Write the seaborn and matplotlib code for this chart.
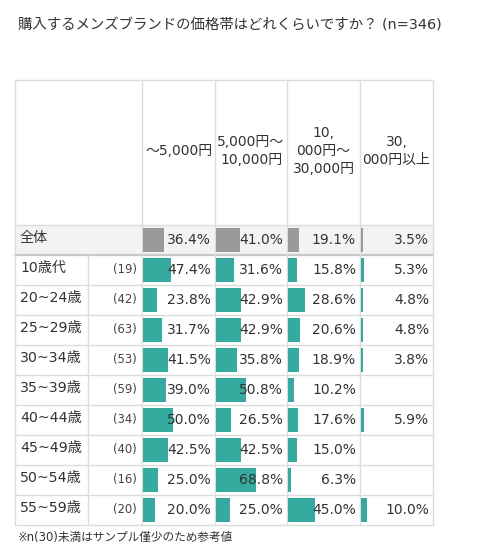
import numpy as np
import pandas as pd
import matplotlib
matplotlib.use("Agg")
import matplotlib.pyplot as plt
import matplotlib.transforms as mtransforms
import seaborn as sns

sns.set_theme(style="white")
plt.rcParams['font.family'] = ['DejaVu Sans', 'Noto Sans CJK JP']

# ---------------- data ----------------
title = "購入するメンズブランドの価格帯はどれくらいですか？ (n=346)"
footnote = "※n(30)未満はサンプル僅少のため参考値"
rows = ['全体', '10歳代', '20~24歳', '25~29歳', '30~34歳', '35~39歳',
        '40~44歳', '45~49歳', '50~54歳', '55~59歳']
n_counts = [None, 19, 42, 63, 53, 59, 34, 40, 16, 20]
columns = ['～5,000円', '5,000円～\n10,000円', '10,\n000円～\n30,000円', '30,\n000円以上']
col1 = [36.4, 47.4, 23.8, 31.7, 41.5, 39.0, 50.0, 42.5, 25.0, 20.0]
col2 = [41.0, 31.6, 42.9, 42.9, 35.8, 50.8, 26.5, 42.5, 68.8, 25.0]
col3 = [19.1, 15.8, 28.6, 20.6, 18.9, 10.2, 17.6, 15.0, 6.3, 45.0]
col4 = [3.5, 5.3, 4.8, 4.8, 3.8, np.nan, 5.9, np.nan, np.nan, 10.0]
values = [col1, col2, col3, col4]

# ---------------- style / layout (pixels) ----------------
W, H = 480, 559
GRAY_BAR = '#9a9a9a'
TEAL = '#35ab9f'
TOTAL_BG = '#f3f3f3'
LINE = '#dcdcdc'
TXT = '#333333'

tbl_left, tbl_right = 15, 433
label_split = 88
col_lefts = [142, 215, 287, 360]
col_rights = [215, 287, 360, 433]
head_top, head_bot = 80, 225
row_h = 30
body_bot = head_bot + row_h * len(rows)

fig = plt.figure(figsize=(W / 100, H / 100), dpi=100)
fig.patch.set_facecolor('white')

# background/layout axes in pixel units
bg = fig.add_axes([0, 0, 1, 1])
bg.set_xlim(0, W)
bg.set_ylim(H, 0)
bg.axis('off')

# total row shading
bg.axhspan(head_bot, head_bot + row_h, xmin=tbl_left / W, xmax=tbl_right / W,
           color=TOTAL_BG, zorder=0, lw=0)

# horizontal grid lines
for k in range(len(rows) + 1):
    y = head_bot + row_h * k
    lw, c = (1.6, '#c8c8c8') if k == 1 else (1.0, LINE)
    bg.plot([tbl_left, tbl_right], [y, y], color=c, lw=lw, zorder=1)
bg.plot([tbl_left, tbl_right], [head_top, head_top], color=LINE, lw=1.0, zorder=1)
# vertical grid lines
for x in [tbl_left] + col_rights:
    bg.plot([x, x], [head_top, body_bot], color=LINE, lw=1.0, zorder=1)
bg.plot([col_lefts[0], col_lefts[0]], [head_top, body_bot], color=LINE, lw=1.0, zorder=1)
bg.plot([label_split, label_split], [head_bot + row_h, body_bot], color=LINE, lw=1.0, zorder=1)

# title & footnote
bg.text(18, 25, title, fontsize=10.4, color=TXT, ha='left', va='center')
bg.text(18, 537, footnote, fontsize=8.4, color=TXT, ha='left', va='center')

# header labels
for i, lab in enumerate(columns):
    cx = (col_lefts[i] + col_rights[i]) / 2
    bg.text(cx, 151, lab, fontsize=10, color=TXT, ha='center', va='center',
            linespacing=1.35, multialignment='center')

# row labels and n
for r, lab in enumerate(rows):
    yc = head_bot + row_h * r + row_h / 2 - 2
    bg.text(20, yc, lab, fontsize=10.2, color=TXT, ha='left', va='center')
    if n_counts[r] is not None:
        bg.text(137, yc + 2, f"({n_counts[r]})", fontsize=8.4, color='#444444',
                ha='right', va='center')

# bar columns
palette = [GRAY_BAR] + [TEAL] * (len(rows) - 1)
for i in range(4):
    x0, x1 = col_lefts[i], col_rights[i]
    ax = fig.add_axes([(x0 + 0.5) / W, 1 - body_bot / H,
                       (x1 - x0 - 0.5) / W, (body_bot - head_bot) / H])
    df = pd.DataFrame({'row': rows, 'value': values[i]})
    sns.barplot(data=df, x='value', y='row', hue='row', order=rows, hue_order=rows,
                palette=palette, orient='h', width=0.82, legend=False, ax=ax,
                saturation=1, linewidth=0)
    ax.set_xlim(0, 120)
    ax.set_ylim(len(rows) - 0.5, -0.5)
    ax.axis('off')
    ax.patch.set_alpha(0)
    trans = mtransforms.blended_transform_factory(ax.transAxes, ax.transData)
    wpx = x1 - x0
    for r, v in enumerate(values[i]):
        if not np.isnan(v):
            ax.text(1 - 4 / wpx, r, f"{v:.1f}%", transform=trans, fontsize=10,
                    color=TXT, ha='right', va='center')

fig.savefig('out.png', dpi=100, facecolor='white')
